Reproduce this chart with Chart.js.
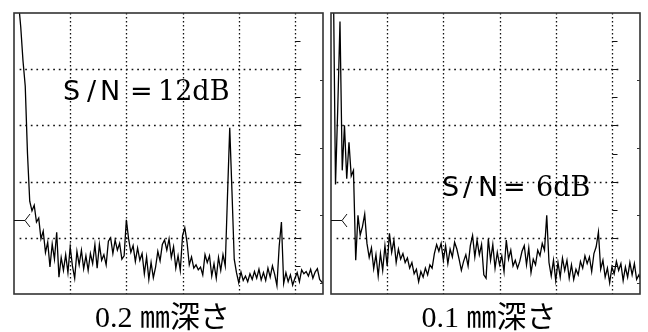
<!DOCTYPE html>
<html><head><meta charset="utf-8">
<style>
html,body{margin:0;padding:0;background:#fff;width:648px;height:332px;overflow:hidden}
#c1{position:absolute;left:0;top:0}
#c2{position:absolute;left:324px;top:0}
</style>
<script src="https://cdn.jsdelivr.net/npm/chart.js@4.4.1/dist/chart.umd.min.js"></script>
</head><body>
<canvas id="c1" width="324" height="332"></canvas>
<canvas id="c2" width="324" height="332"></canvas>
<script>
// ---- data ----
const X_MAX = 275, Y_MAX = 50;
const FREQ_STEP = 2;
const X_GRID = [50, 100, 150, 200, 250];
const Y_GRID = [10, 20, 30, 40];
const HALF_TICKS = [5, 15, 25, 35, 45];
const EDGE_TICKS = [2, 14, 26, 38];
const REF_LEVEL = 13.2;
const captions = ['0.2 ㎜深さ', '0.1 ㎜深さ'];
const snValues = ['12dB', '6dB'];

const depth02 = [62,58,52,47.5,41.5,37,25,16.5,14.8,15.8,
 12.8,13.5,9.8,11.2,7.4,9.2,4.8,8.9,6.2,11,
 3.0,6.5,4.2,7.0,3.8,8.4,5.0,2.8,7.6,5.2,
 7.8,4.5,6.8,4.2,7.2,5.4,8.8,4.6,8.8,6.0,
 7.0,5.2,9.4,10.0,7.2,9.6,7.8,9.0,6.2,6.8,
 13.2,9.8,7.4,8.6,5.8,8.2,6.0,7.2,3.6,6.6,
 2.6,5.6,2.9,4.8,7.6,5.9,8.8,9.6,7.8,9.8,
 6.5,8.4,4.6,6.8,4.2,10.4,11.8,9.2,5.2,6.6,
 4.6,5.2,4.3,4.8,3.4,7.0,5.6,6.8,3.2,5.4,
 2.8,6.5,4.2,7.0,5.0,17.5,29.6,18.2,6.2,3.8,
 2.0,3.9,2.4,3.2,2.2,3.6,2.6,4.0,2.8,4.4,
 2.5,3.8,2.4,4.6,3.0,5.0,3.5,1.5,8.5,12.8,
 1.9,3.8,2.2,3.4,1.6,2.8,3.8,2.2,4.3,3.6,
 4.0,3.2,4.4,2.8,3.9,4.5,2.6,2.1,2.0];

const depth01 = [60,58,19.5,33,48.5,22,30,20.5,27,21,
 22,6.0,14.0,10.5,12.0,14.2,9.0,6.5,8.2,4.5,
 7.0,3.2,7.2,4.2,8.6,5.0,10.8,7.4,9.6,5.6,
 8.0,6.2,7.2,5.6,6.4,4.6,5.6,3.6,4.4,2.2,
 4.0,3.0,4.6,3.4,5.2,4.6,7.2,8.8,7.6,9.0,
 6.0,8.6,5.4,8.0,6.6,9.2,8.0,6.2,4.2,5.8,
 7.0,5.0,8.6,10.4,6.6,9.6,7.0,8.8,3.4,2.8,
 9.8,6.0,8.8,4.6,7.4,5.2,6.8,4.0,9.6,6.2,
 7.8,5.0,6.0,4.6,5.8,7.6,8.6,5.2,8.2,3.8,
 6.2,5.2,7.8,6.8,9.0,7.8,14.0,5.6,3.2,6.0,
 2.4,5.6,3.0,6.4,4.2,6.0,2.8,5.2,2.6,4.4,
 3.4,5.8,4.6,6.8,5.4,6.6,4.0,7.2,8.4,11.0,
 4.4,6.0,3.0,4.6,2.0,4.8,3.6,5.8,4.2,5.4,
 2.4,4.8,3.0,5.6,3.4,5.4,2.6,3.4,2.2];

// ---- drawing ----
const INK = '#111';
const panelPlugin = {
  id: 'panel',
  beforeDatasetsDraw(chart, args, o) {
    const {ctx, chartArea: a, scales: {x, y}} = chart;
    ctx.save();
    ctx.strokeStyle = '#111';
    ctx.lineWidth = 1.3;
    ctx.setLineDash([1.4, 2.6]);
    for (const v of X_GRID) {
      const px = Math.round(x.getPixelForValue(v)) + 0.5;
      ctx.beginPath(); ctx.moveTo(px, a.top); ctx.lineTo(px, a.bottom); ctx.stroke();
    }
    ctx.setLineDash([1.7, 3.9]);
    for (const v of Y_GRID) {
      const py = Math.round(y.getPixelForValue(v)) + 0.5;
      ctx.beginPath(); ctx.moveTo(x.getPixelForValue(5), py); ctx.lineTo(x.getPixelForValue(256), py); ctx.stroke();
    }
    ctx.setLineDash([]);
    ctx.lineWidth = 1;
    const gx = Math.round(x.getPixelForValue(250)) + 0.5;
    for (const v of HALF_TICKS.concat(Y_GRID)) {
      const py = Math.round(y.getPixelForValue(v)) + 0.5;
      ctx.beginPath(); ctx.moveTo(gx, py); ctx.lineTo(gx + 5, py); ctx.stroke();
    }
    ctx.restore();
  },
  afterDatasetsDraw(chart, args, o) {
    const {ctx, chartArea: a, scales: {x, y}} = chart;
    ctx.save();
    // frame
    ctx.strokeStyle = '#333';
    ctx.lineWidth = 1.6;
    ctx.strokeRect(a.left, a.top, a.right - a.left, a.bottom - a.top);
    // edge ticks
    ctx.lineWidth = 1;
    for (const v of EDGE_TICKS) {
      const py = Math.round(y.getPixelForValue(v)) + 0.5;
      ctx.beginPath(); ctx.moveTo(a.right, py); ctx.lineTo(a.right - 3, py); ctx.stroke();
    }
    // reference marker
    ctx.strokeStyle = INK;
    const my = Math.round(y.getPixelForValue(REF_LEVEL)) + 0.5;
    ctx.beginPath();
    ctx.moveTo(a.left, my); ctx.lineTo(a.left + 11, my);
    ctx.lineTo(a.left + 16, my - 6.5);
    ctx.moveTo(a.left + 11, my); ctx.lineTo(a.left + 16, my + 6.5);
    ctx.stroke();
    // S/N label
    ctx.fillStyle = '#000';
    ctx.textBaseline = 'alphabetic';
    ctx.textAlign = 'left';
    const lx = x.getPixelForValue(o.labelX), ly = y.getPixelForValue(o.labelY);
    const off = o.offsets;
    ctx.font = '27px "DejaVu Sans"';
    ctx.fillText('S', lx + off[0], ly);
    ctx.fillText('/', lx + off[1], ly);
    ctx.fillText('N', lx + off[2], ly);
    ctx.fillText('=', lx + off[3] - 3, ly);
    ctx.font = '27px "DejaVu Serif"';
    ctx.fillText(o.sn, lx + off[4], ly);
    // caption
    ctx.font = '30px "Liberation Serif", "Noto Sans CJK JP"';
    ctx.textAlign = 'center';
    ctx.fillText(o.caption, o.captionX, 327);
    ctx.restore();
  }
};

function makeChart(id, values, pad, opts) {
  return new Chart(document.getElementById(id), {
    type: 'line',
    data: {
      datasets: [{
        data: values.map((v, i) => ({x: i * FREQ_STEP, y: v})),
        borderColor: '#000',
        borderWidth: 1.3,
        pointRadius: 0,
        tension: 0,
        fill: false
      }]
    },
    options: {
      responsive: false,
      animation: false,
      devicePixelRatio: 1,
      layout: {padding: pad},
      scales: {
        x: {type: 'linear', min: 0, max: X_MAX, display: false},
        y: {type: 'linear', min: 0, max: Y_MAX, display: false}
      },
      plugins: {legend: {display: false}, tooltip: {enabled: false}, panel: opts}
    },
    plugins: [panelPlugin]
  });
}

makeChart('c1', depth02, {left: 14, top: 13, right: 1, bottom: 38},
  {labelX: 43.6, labelY: 34.5, offsets: [0, 24, 37, 70, 95], sn: snValues[0], caption: captions[0], captionX: 162.5});
makeChart('c2', depth01, {left: 7, top: 13, right: 8, bottom: 38},
  {labelX: 98.8, labelY: 17.5, offsets: [0, 21, 36, 64, 94], sn: snValues[1], caption: captions[1], captionX: 165});
</script>
</body></html>
